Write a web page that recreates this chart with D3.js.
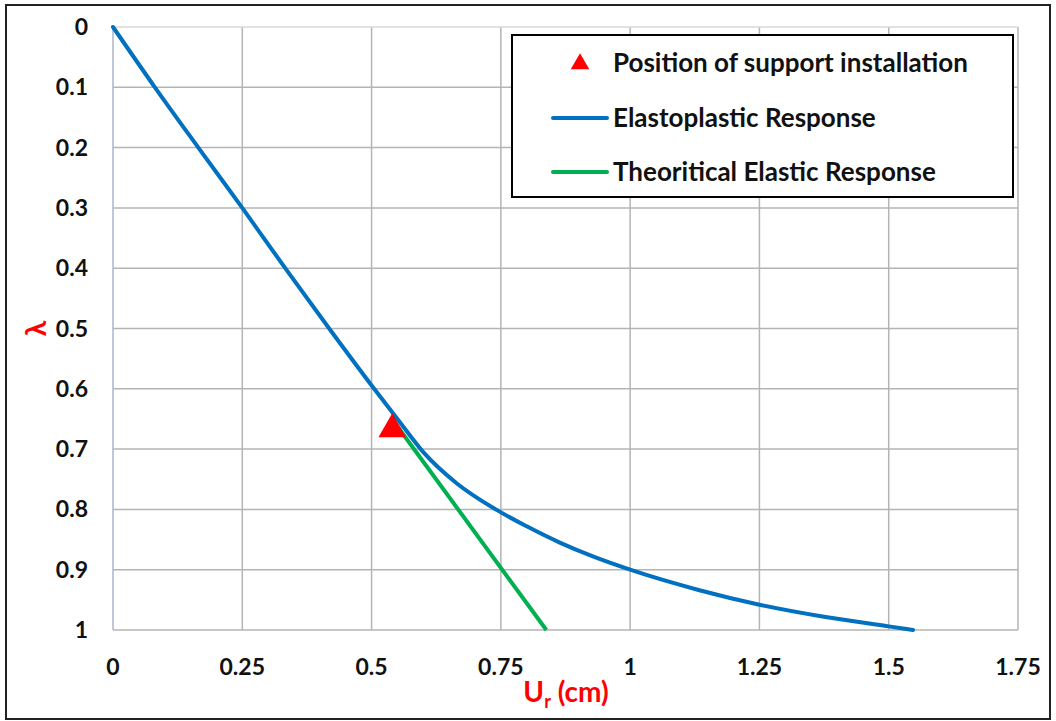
<!DOCTYPE html>
<html>
<head>
<meta charset="utf-8">
<script src="https://cdn.jsdelivr.net/npm/d3@7"></script>
<style>
  body { margin: 0; background: #fff; }
  text { font-family: Lato, "Open Sans", "DejaVu Sans", sans-serif; font-weight: bold; }
</style>
</head>
<body>
<div id="vis"></div>
<script>
// data
var xTicks = [0, 0.25, 0.5, 0.75, 1, 1.25, 1.5, 1.75];
var yTicks = [0, 0.1, 0.2, 0.3, 0.4, 0.5, 0.6, 0.7, 0.8, 0.9, 1];

// elastoplastic response (Ur, lambda)
var elastoUr = [0, 0.081, 0.165, 0.25, 0.333, 0.418, 0.505, 0.55, 0.60, 0.665, 0.74, 0.80, 0.864, 0.928, 1.0, 1.134, 1.25, 1.375, 1.5, 1.547];
var elastoLam = [0, 0.1, 0.2, 0.3, 0.4, 0.5, 0.6, 0.65, 0.705, 0.757, 0.80, 0.828, 0.855, 0.878, 0.9, 0.934, 0.958, 0.978, 0.994, 1.0];

// theoretical elastic response after support installation
var elasticUr = [0.548, 0.838];
var elasticLam = [0.66, 1.0];

// support installation point
var supportUr = [0.54];
var supportLam = [0.667];

var legendLabels = ['Position of support installation', 'Elastoplastic Response', 'Theoritical Elastic Response'];

//layout
var W = 1056, H = 721;
var plot = { left: 113, top: 27, right: 1018, bottom: 630 };

var colors = { blue: '#0070C0', green: '#00B050', red: '#FF0000', grid: '#b4b4b4' };

var x = d3.scaleLinear().domain([0, 1.75]).range([plot.left, plot.right]);
var y = d3.scaleLinear().domain([0, 1]).range([plot.top, plot.bottom]);

var svg = d3.select('#vis').append('svg')
    .attr('width', W)
    .attr('height', H);

svg.append('rect')
    .attr('width', W).attr('height', H)
    .attr('fill', '#fff');

//grid
svg.append('g').selectAll('line')
    .data(xTicks.slice(1))
    .enter().append('line')
    .attr('x1', function (d) { return x(d); })
    .attr('x2', function (d) { return x(d); })
    .attr('y1', plot.top)
    .attr('y2', plot.bottom)
    .attr('stroke', colors.grid)
    .attr('stroke-width', 1.5);

svg.append('g').selectAll('line')
    .data(yTicks)
    .enter().append('line')
    .attr('x1', plot.left)
    .attr('x2', plot.right)
    .attr('y1', function (d) { return y(d); })
    .attr('y2', function (d) { return y(d); })
    .attr('stroke', function (d) { return d === 0 ? '#d9d9d9' : colors.grid; })
    .attr('stroke-width', 1.5);

//left axis line
svg.append('line')
    .attr('x1', plot.left).attr('x2', plot.left)
    .attr('y1', plot.top).attr('y2', plot.bottom)
    .attr('stroke', '#a9b6c9')
    .attr('stroke-width', 1.5);

//tick labels
svg.append('g').selectAll('text')
    .data(xTicks)
    .enter().append('text')
    .attr('x', function (d) { return x(d); })
    .attr('y', 667)
    .attr('dy', '0.35em')
    .attr('text-anchor', 'middle')
    .attr('font-size', 23)
    .attr('fill', '#111')
    .text(function (d) { return d; });

svg.append('g').selectAll('text')
    .data(yTicks)
    .enter().append('text')
    .attr('x', 88)
    .attr('y', function (d) { return y(d); })
    .attr('dy', '0.35em')
    .attr('text-anchor', 'end')
    .attr('font-size', 23)
    .attr('fill', '#111')
    .text(function (d) { return d; });

//axis titles
svg.append('text')
    .attr('transform', 'translate(36,' + y(0.5) + ') rotate(-90)')
    .attr('text-anchor', 'middle')
    .attr('dy', '0.35em')
    .attr('font-size', 28)
    .attr('fill', colors.red)
    .text('λ');

var xt = svg.append('text')
    .attr('x', 566)
    .attr('y', 702)
    .attr('text-anchor', 'middle')
    .attr('font-size', 28)
    .attr('fill', colors.red);
xt.append('tspan').text('U');
xt.append('tspan').attr('font-size', 18).attr('dy', 6).text('r');
xt.append('tspan').attr('dy', -6).text(' (cm)');

//curves
var line = d3.line()
    .x(function (d) { return x(d[0]); })
    .y(function (d) { return y(d[1]); });

svg.append('path')
    .datum(d3.zip(elastoUr, elastoLam))
    .attr('d', line.curve(d3.curveMonotoneX))
    .attr('fill', 'none')
    .attr('stroke', colors.blue)
    .attr('stroke-width', 4)
    .attr('stroke-linecap', 'round');

svg.append('path')
    .datum(d3.zip(elasticUr, elasticLam))
    .attr('d', line.curve(d3.curveLinear))
    .attr('fill', 'none')
    .attr('stroke', colors.green)
    .attr('stroke-width', 4);

var tri = d3.symbol().type(d3.symbolTriangle);
svg.append('g').selectAll('path')
    .data(d3.zip(supportUr, supportLam))
    .enter().append('path')
    .attr('d', tri.size(330)())
    .attr('transform', function (d) { return 'translate(' + x(d[0]) + ',' + y(d[1]) + ')'; })
    .attr('fill', colors.red);

//legend
var lg = svg.append('g');
lg.append('rect')
    .attr('x', 512).attr('y', 35)
    .attr('width', 501).attr('height', 162)
    .attr('fill', '#fff')
    .attr('stroke', '#000')
    .attr('stroke-width', 2);

var rowY = [63, 118, 172];
lg.append('path')
    .attr('d', tri.size(150)())
    .attr('transform', 'translate(580,' + (rowY[0] + 1) + ')')
    .attr('fill', colors.red);
lg.append('line')
    .attr('x1', 553).attr('x2', 607)
    .attr('y1', rowY[1]).attr('y2', rowY[1])
    .attr('stroke', colors.blue).attr('stroke-width', 4).attr('stroke-linecap', 'round');
lg.append('line')
    .attr('x1', 553).attr('x2', 607)
    .attr('y1', rowY[2]).attr('y2', rowY[2])
    .attr('stroke', colors.green).attr('stroke-width', 4).attr('stroke-linecap', 'round');

lg.selectAll('.lg-text')
    .data(legendLabels)
    .enter().append('text')
    .attr('class', 'lg-text')
    .attr('x', 613)
    .attr('y', function (d, i) { return rowY[i]; })
    .attr('dy', '0.35em')
    .attr('font-size', 26)
    .attr('fill', '#111')
    .text(function (d) { return d; });

//outer frame
svg.append('rect')
    .attr('x', 6).attr('y', 5)
    .attr('width', 1044).attr('height', 714)
    .attr('fill', 'none')
    .attr('stroke', '#222')
    .attr('stroke-width', 2);
</script>
</body>
</html>
